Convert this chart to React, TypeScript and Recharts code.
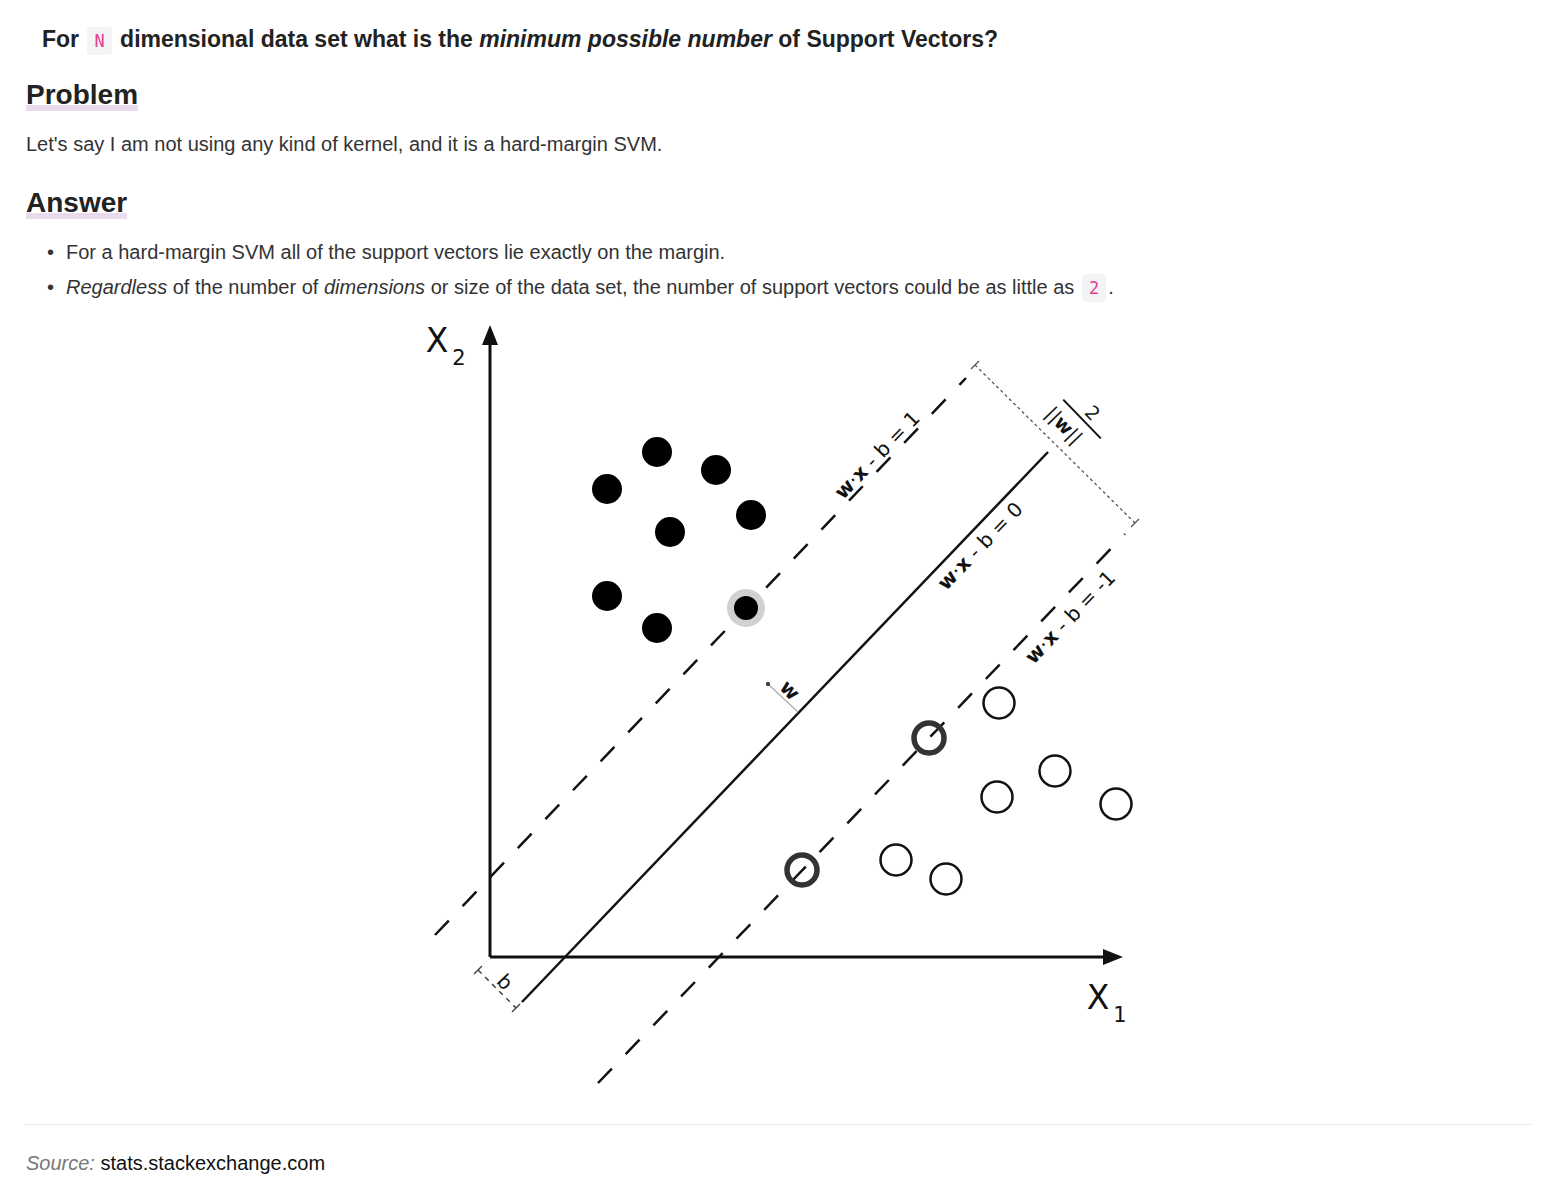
import React from "react"
import { ScatterChart, Scatter, XAxis, YAxis, ReferenceLine } from "recharts"

// plane coordinates: origin at the axes corner, x1 to the right, x2 up
const filledPoints = [
  { x: 167, y: 505 },
  { x: 226, y: 487 },
  { x: 117, y: 468 },
  { x: 261, y: 442 },
  { x: 180, y: 425 },
  { x: 117, y: 361 },
  { x: 167, y: 329 },
]
const filledSupport = [{ x: 256, y: 349 }]

const openPoints = [
  { x: 509, y: 254 },
  { x: 565, y: 186 },
  { x: 507, y: 160 },
  { x: 626, y: 153 },
  { x: 406, y: 97 },
  { x: 456, y: 78 },
]
const openSupport = [
  { x: 439, y: 219 },
  { x: 312, y: 87 },
]

// hyperplanes w·x - b = 1, 0, -1 (end points)
const planeUpper = [{ x: -55, y: 22 }, { x: 476, y: 579 }]
const planeMiddle = [{ x: 32, y: -45 }, { x: 558, y: 505 }]
const planeLower = [{ x: 108, y: -126 }, { x: 635, y: 423 }]

// axes
const axisX1 = [{ x: 0, y: 0 }, { x: 620, y: 0 }]
const axisX2 = [{ x: 0, y: 0 }, { x: 0, y: 620 }]
const arrowTips = [
  { x: 633, y: 0, dir: "right" },
  { x: 0, y: 632, dir: "up" },
]

// margin width marker, offset b marker, normal vector w
const marginBar = [{ x: 485, y: 592 }, { x: 645, y: 434 }]
const marginTicks = [
  [{ x: 481, y: 588 }, { x: 489, y: 596 }],
  [{ x: 641, y: 430 }, { x: 649, y: 438 }],
]
const offsetBar = [{ x: -12, y: -13 }, { x: 26, y: -51 }]
const offsetTicks = [
  [{ x: -16, y: -17 }, { x: -8, y: -9 }],
  [{ x: 22, y: -55 }, { x: 30, y: -47 }],
]
const normalVector = [{ x: 308, y: 245 }, { x: 278, y: 273 }]
const normalTip = [{ x: 278, y: 273 }]

const planeLabels = [
  { x: 387, y: 502, rhs: "1" },
  { x: 490, y: 411, rhs: "0" },
  { x: 580, y: 340, rhs: "-1" },
]
const fractionLabel = [{ x: 592, y: 538 }]
const smallLabels = [
  { x: 300, y: 267, text: "w", bold: true },
  { x: 15, y: -25, text: "b", bold: false },
]
const axisLabels = [
  { x: -53, y: 617, sub: "2" },
  { x: 608, y: -40, sub: "1" },
]

const FONT = "'DejaVu Sans', sans-serif"

const codeStyle: React.CSSProperties = {
  display: "inline-block",
  fontFamily: "'DejaVu Sans Mono', monospace",
  fontSize: 17,
  fontWeight: 400,
  color: "#e83e8c",
  background: "#f3f4f5",
  borderRadius: 4,
  padding: "0 7px",
  lineHeight: "28px",
  margin: "0 2px",
}

const headingStyle = (top: number): React.CSSProperties => ({
  position: "absolute",
  left: 18,
  top,
  fontSize: 28,
  fontWeight: 700,
  lineHeight: "34px",
  height: 34,
  color: "#222",
  background:
    "linear-gradient(transparent 27px, #e9dbed 27px, #e9dbed 33px, transparent 33px)",
})

function Diagram() {
  return (
    <ScatterChart width={750} height={790} margin={{ top: 0, right: 0, bottom: 0, left: 0 }}>
      <XAxis type="number" dataKey="x" domain={[-80, 670]} hide />
      <YAxis type="number" dataKey="y" domain={[-148, 642]} hide />

      <ReferenceLine segment={axisX1} stroke="#111" strokeWidth={3} ifOverflow="visible" />
      <ReferenceLine segment={axisX2} stroke="#111" strokeWidth={3} ifOverflow="visible" />

      <ReferenceLine segment={planeUpper} stroke="#111" strokeWidth={2.5} strokeDasharray="20 20" ifOverflow="visible" />
      <ReferenceLine segment={planeMiddle} stroke="#111" strokeWidth={2.5} ifOverflow="visible" />
      <ReferenceLine segment={planeLower} stroke="#111" strokeWidth={2.5} strokeDasharray="20 20" ifOverflow="visible" />

      <ReferenceLine segment={marginBar} stroke="#555" strokeWidth={1.3} strokeDasharray="3 3" ifOverflow="visible" />
      {marginTicks.map((t, i) => (
        <ReferenceLine key={"mt" + i} segment={t} stroke="#555" strokeWidth={1.3} ifOverflow="visible" />
      ))}
      <ReferenceLine segment={offsetBar} stroke="#444" strokeWidth={1.5} strokeDasharray="5 5" ifOverflow="visible" />
      {offsetTicks.map((t, i) => (
        <ReferenceLine key={"ot" + i} segment={t} stroke="#444" strokeWidth={1.5} ifOverflow="visible" />
      ))}
      <ReferenceLine segment={normalVector} stroke="#aaa" strokeWidth={1.2} ifOverflow="visible" />

      <Scatter
        data={normalTip}
        isAnimationActive={false}
        shape={(p: any) => <circle cx={p.cx} cy={p.cy} r={2.2} fill="#444" />}
      />

      <Scatter
        data={arrowTips}
        isAnimationActive={false}
        shape={(p: any) =>
          p.payload.dir === "right" ? (
            <polygon points={`${p.cx},${p.cy} ${p.cx - 20},${p.cy - 8} ${p.cx - 20},${p.cy + 8}`} fill="#111" />
          ) : (
            <polygon points={`${p.cx},${p.cy} ${p.cx - 8},${p.cy + 20} ${p.cx + 8},${p.cy + 20}`} fill="#111" />
          )
        }
      />

      <Scatter
        data={filledPoints}
        isAnimationActive={false}
        shape={(p: any) => <circle cx={p.cx} cy={p.cy} r={15} fill="#000" />}
      />
      <Scatter
        data={filledSupport}
        isAnimationActive={false}
        shape={(p: any) => (
          <g>
            <circle cx={p.cx} cy={p.cy} r={19} fill="#000" fillOpacity={0.18} />
            <circle cx={p.cx} cy={p.cy} r={12} fill="#000" />
          </g>
        )}
      />
      <Scatter
        data={openPoints}
        isAnimationActive={false}
        shape={(p: any) => <circle cx={p.cx} cy={p.cy} r={15.5} fill="none" stroke="#111" strokeWidth={2.5} />}
      />
      <Scatter
        data={openSupport}
        isAnimationActive={false}
        shape={(p: any) => <circle cx={p.cx} cy={p.cy} r={15} fill="none" stroke="#333" strokeWidth={5.5} />}
      />

      <Scatter
        data={planeLabels}
        isAnimationActive={false}
        shape={(p: any) => (
          <text
            x={p.cx}
            y={p.cy}
            textAnchor="middle"
            dominantBaseline="central"
            fontFamily={FONT}
            fontSize={20}
            fill="#111"
            transform={`rotate(-46 ${p.cx} ${p.cy})`}
          >
            <tspan fontWeight="bold">w</tspan>·<tspan fontWeight="bold">x</tspan> - b = {p.payload.rhs}
          </text>
        )}
      />
      <Scatter
        data={fractionLabel}
        isAnimationActive={false}
        shape={(p: any) => (
          <g transform={`translate(${p.cx} ${p.cy}) rotate(46)`} fontFamily={FONT} fill="#111">
            <line x1={-27} y1={0} x2={27} y2={0} stroke="#111" strokeWidth={2} />
            <text x={3} y={-5} textAnchor="middle" fontSize={19}>2</text>
            <text x={-8} y={17} textAnchor="middle" dominantBaseline="central" fontSize={19}>
              ||<tspan fontWeight="bold">w</tspan>||
            </text>
          </g>
        )}
      />
      <Scatter
        data={smallLabels}
        isAnimationActive={false}
        shape={(p: any) => (
          <text
            x={p.cx}
            y={p.cy}
            textAnchor="middle"
            dominantBaseline="central"
            fontFamily={FONT}
            fontSize={20}
            fontWeight={p.payload.bold ? "bold" : "normal"}
            fill="#111"
            transform={`rotate(46 ${p.cx} ${p.cy})`}
          >
            {p.payload.text}
          </text>
        )}
      />
      <Scatter
        data={axisLabels}
        isAnimationActive={false}
        shape={(p: any) => (
          <g fontFamily={FONT} fill="#111">
            <text x={p.cx} y={p.cy} textAnchor="middle" dominantBaseline="central" fontSize={33}>X</text>
            <text x={p.cx + 22} y={p.cy + 18} textAnchor="middle" dominantBaseline="central" fontSize={21}>
              {p.payload.sub}
            </text>
          </g>
        )}
      />
    </ScatterChart>
  )
}

export default function App() {
  return (
    <div
      style={{
        position: "relative",
        width: 1540,
        height: 1184,
        fontFamily: "'Liberation Sans', Arial, Helvetica, sans-serif",
        color: "#333",
      }}
    >
      <div
        style={{
          position: "absolute",
          left: 34,
          top: 16,
          fontSize: 23,
          fontWeight: 700,
          lineHeight: "30px",
          color: "#222",
          whiteSpace: "nowrap",
        }}
      >
        For <code style={codeStyle}>N</code> dimensional data set what is the <em>minimum possible number</em> of Support
        Vectors?
      </div>

      <div style={headingStyle(70)}>Problem</div>
      <div style={{ position: "absolute", left: 18, top: 122, fontSize: 20, lineHeight: "28px", whiteSpace: "nowrap" }}>
        Let's say I am not using any kind of kernel, and it is a hard-margin SVM.
      </div>

      <div style={headingStyle(178)}>Answer</div>
      <div style={{ position: "absolute", left: 39, top: 227, fontSize: 20, lineHeight: "35px", whiteSpace: "nowrap" }}>
        <div>
          <span style={{ display: "inline-block", width: 19 }}>•</span>For a hard-margin SVM all of the support vectors lie
          exactly on the margin.
        </div>
        <div>
          <span style={{ display: "inline-block", width: 19 }}>•</span>
          <em>Regardless</em> of the number of <em>dimensions</em> or size of the data set, the number of support vectors
          could be as little as <code style={codeStyle}>2</code>.
        </div>
      </div>

      <div style={{ position: "absolute", left: 402, top: 307 }}>
        <Diagram />
      </div>

      <div style={{ position: "absolute", left: 17, top: 1116, width: 1506, height: 1, background: "#e6e6e6" }} />
      <div style={{ position: "absolute", left: 18, top: 1141, fontSize: 20, lineHeight: "28px", whiteSpace: "nowrap" }}>
        <em style={{ color: "#777" }}>Source:</em> <span style={{ color: "#111" }}>stats.stackexchange.com</span>
      </div>
    </div>
  )
}
